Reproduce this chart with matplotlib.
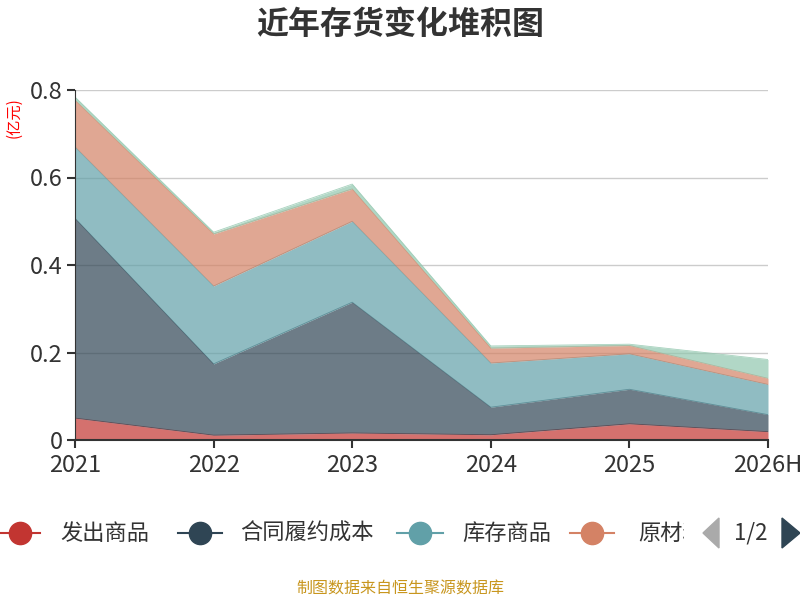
import matplotlib
matplotlib.use("Agg")
import matplotlib.pyplot as plt
from matplotlib.lines import Line2D
from matplotlib.patches import Polygon, Rectangle
import numpy as np

plt.rcParams['font.family'] = ['Noto Sans CJK SC', 'DejaVu Sans']

# 数据（亿元）
years = ["2021", "2022", "2023", "2024", "2025", "2026H"]
names = ["发出商品", "合同履约成本", "库存商品", "原材料", "周转材料"]
fachu = [0.050, 0.011, 0.016, 0.012, 0.037, 0.019]
hetong = [0.457, 0.163, 0.299, 0.063, 0.079, 0.039]
kucun = [0.163, 0.178, 0.185, 0.101, 0.081, 0.069]
yuancailiao = [0.107, 0.119, 0.074, 0.034, 0.019, 0.014]
zhouzhuan = [0.007, 0.004, 0.011, 0.005, 0.003, 0.043]
colors = ["#c23531", "#2f4554", "#61a0a8", "#d48265", "#91c7ae"]

series = [fachu, hetong, kucun, yuancailiao, zhouzhuan]

fig = plt.figure(figsize=(8, 6), dpi=100)
ax = fig.add_axes([75 / 800, 160 / 600, 693 / 800, 350 / 600])

x = np.arange(len(years))
base = np.zeros(len(years))
for vals, c in zip(series, colors):
    top = base + np.array(vals)
    ax.fill_between(x, base, top, color=c, alpha=0.7, lw=0, zorder=2)
    ax.plot(x, top, color=c, lw=0.6, alpha=0.8, zorder=2)
    base = top

ax.set_xlim(0, len(years) - 1)
ax.set_ylim(0, 0.8)
ax.set_xticks(x)
ax.set_xticklabels(years, fontsize=17, color="#333333")
ax.set_yticks([0, 0.2, 0.4, 0.6, 0.8])
ax.set_yticklabels(["0", "0.2", "0.4", "0.6", "0.8"], fontsize=17, color="#333333")
ax.yaxis.grid(True, color="#cccccc", lw=1, zorder=1)
ax.set_axisbelow(True)
for s in ["top", "right"]:
    ax.spines[s].set_visible(False)
ax.spines["left"].set_color("#333333")
ax.spines["bottom"].set_color("#333333")
ax.spines["bottom"].set_linewidth(1.5)
ax.spines["left"].set_zorder(3)
ax.spines["bottom"].set_zorder(3)
ax.tick_params(axis="x", length=6, width=1.5, color="#333333", pad=4)
ax.tick_params(axis="y", length=6, width=1.5, color="#333333", pad=3)

fig.text(0.5, 1 - 25 / 600, "近年存货变化堆积图", ha="center", va="center",
         fontsize=23, fontweight="bold", color="#333333")
fig.text(14 / 800, 1 - 118 / 600, "(亿元)", ha="center", va="center",
         rotation=90, fontsize=11, color="red")

# 图例（第1页）
ly = 1 - 533 / 600
items = [(0, 20, 60), (178, 200, 240), (397, 420, 462), (570, 592, 638)]
for (lx0, mx, tx), name, c in zip(items, names[:4], colors[:4]):
    fig.add_artist(Line2D([lx0 / 800, (2 * mx - lx0) / 800], [ly, ly],
                          color=c, lw=1.5, transform=fig.transFigure))
    fig.add_artist(Line2D([mx / 800], [ly], marker="o", markersize=16,
                          color=c, transform=fig.transFigure))
    t = fig.text(tx / 800, ly, name, ha="left", va="center",
                 fontsize=16, color="#333333")
    if tx == 638:
        clip = Rectangle((0, 0), 684 / 800, 1, transform=fig.transFigure)
        t.set_clip_path(clip)

fig.add_artist(Polygon([[703 / 800, ly], [719 / 800, ly + 15 / 600],
                        [719 / 800, ly - 15 / 600]], closed=True,
                       color="#aaaaaa", transform=fig.transFigure))
fig.text(751 / 800, ly, "1/2", ha="center", va="center", fontsize=16,
         color="#333333")
fig.add_artist(Polygon([[800 / 800, ly], [782 / 800, ly + 15 / 600],
                        [782 / 800, ly - 15 / 600]], closed=True,
                       color="#2f4554", transform=fig.transFigure))

fig.text(0.5, 1 - 589 / 600, "制图数据来自恒生聚源数据库", ha="center",
         va="center", fontsize=11.5, color="#c8961e")

fig.savefig("out.png", dpi=100)
